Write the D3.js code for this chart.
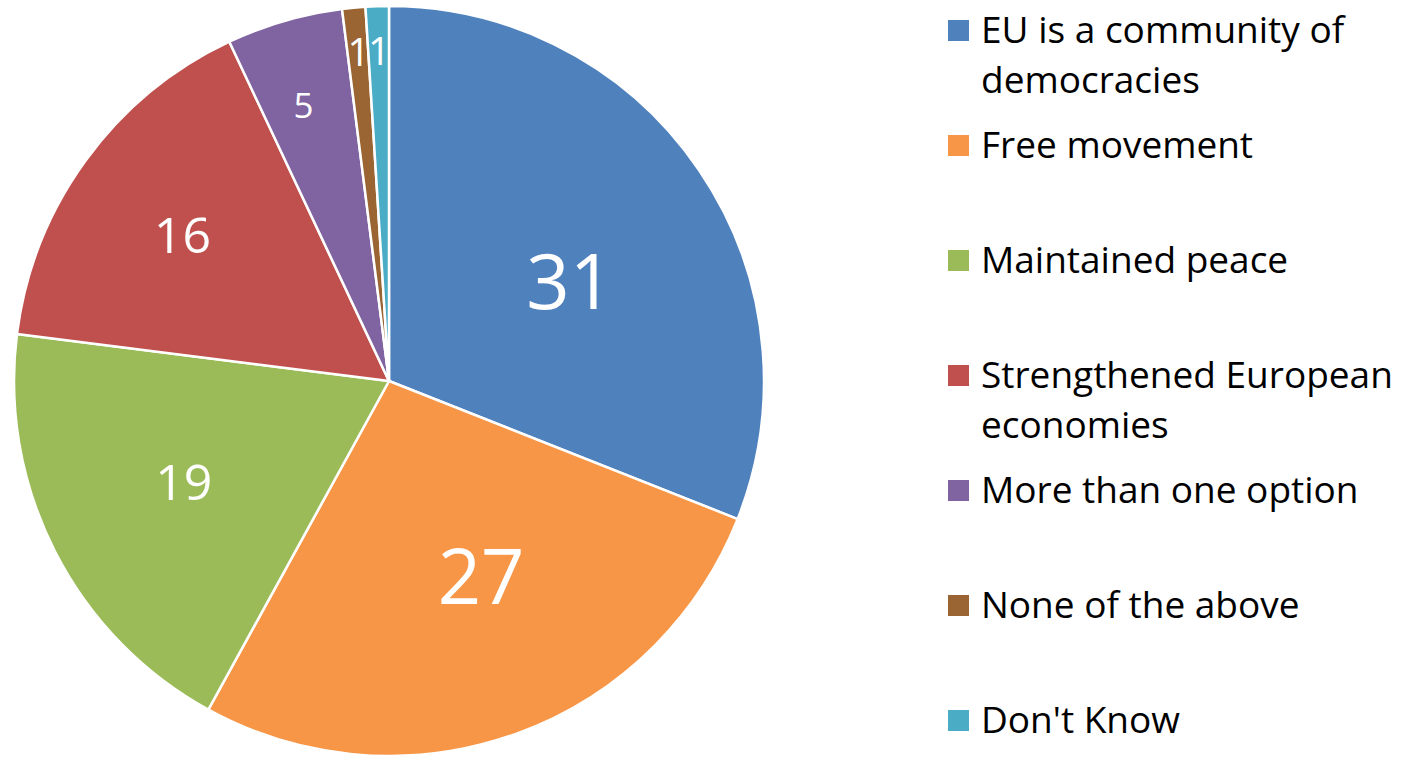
<!DOCTYPE html>
<html>
<head>
<meta charset="utf-8">
<script src="https://cdn.jsdelivr.net/npm/d3@7/dist/d3.min.js"></script>
<style>
  html, body { margin: 0; padding: 0; background: #fff; }
  svg { display: block; }
</style>
</head>
<body>
<svg id="chart" width="1405" height="760"></svg>
<script>
// ---- data ----
const categories = [
  "EU is a community of democracies",
  "Free movement",
  "Maintained peace",
  "Strengthened European economies",
  "More than one option",
  "None of the above",
  "Don't Know"
];
const legendLines = [
  ["EU is a community of", "democracies"],
  ["Free movement"],
  ["Maintained peace"],
  ["Strengthened European", "economies"],
  ["More than one option"],
  ["None of the above"],
  ["Don't Know"]
];
const values = [31, 27, 19, 16, 5, 1, 1];
const colors = ["#4F81BD", "#F79646", "#9BBB59", "#C0504D", "#8064A2", "#9A6433", "#4BACC6"];

// label styling (font size, radial distance fraction, angle offset in degrees)
const labelFont = [76, 76, 50, 50, 35, 39, 39];
const labelDist = [0.55, 0.577, 0.61, 0.675, 0.77, 0.88, 0.88];
const labelAngleOffset = [5.4, -5.4, 0.8, -0.7, -1.0, 0.1, 0.1];

// ---- layout ----
const W = 1405, H = 760;
const cx = 389, cy = 381, R = 375;
const font = "'Open Sans', 'DejaVu Sans', sans-serif";

const svg = d3.select("#chart");
const g = svg.append("g").attr("transform", `translate(${cx},${cy})`);

const pie = d3.pie().value(d => d).sort(null);
const arcs = pie(values);
const arc = d3.arc().innerRadius(0).outerRadius(R);

g.selectAll("path.slice")
  .data(arcs)
  .enter().append("path")
  .attr("class", "slice")
  .attr("d", arc)
  .attr("fill", (d, i) => colors[i])
  .attr("stroke", "#fff")
  .attr("stroke-width", 2.5)
  .attr("stroke-linejoin", "round");

g.selectAll("text.lbl")
  .data(arcs)
  .enter().append("text")
  .attr("class", "lbl")
  .attr("text-anchor", "middle")
  .attr("font-family", font)
  .attr("font-size", (d, i) => labelFont[i])
  .attr("fill", "#fff")
  .attr("x", (d, i) => {
    const a = (d.startAngle + d.endAngle) / 2 + labelAngleOffset[i] * Math.PI / 180;
    return Math.sin(a) * R * labelDist[i];
  })
  .attr("y", (d, i) => {
    const a = (d.startAngle + d.endAngle) / 2 + labelAngleOffset[i] * Math.PI / 180;
    return -Math.cos(a) * R * labelDist[i] + labelFont[i] * 0.357;
  })
  .text(d => d.data);

// ---- legend ----
const legX = 948, legY0 = 20, legStep = 115, sw = 21;
const legendFont = 37, lineH = 50;
const leg = svg.append("g");
const items = leg.selectAll("g.item")
  .data(categories)
  .enter().append("g")
  .attr("class", "item")
  .attr("transform", (d, i) => `translate(${legX},${legY0 + i * legStep})`);

items.append("rect")
  .attr("width", sw).attr("height", sw)
  .attr("fill", (d, i) => colors[i]);

items.each(function(d, i) {
  const t = d3.select(this).append("text")
    .attr("font-family", font)
    .attr("font-size", legendFont)
    .attr("fill", "#000");
  legendLines[i].forEach((ln, j) => {
    t.append("tspan")
      .attr("x", 33)
      .attr("y", 23 + j * lineH)
      .text(ln);
  });
});
</script>
</body>
</html>
